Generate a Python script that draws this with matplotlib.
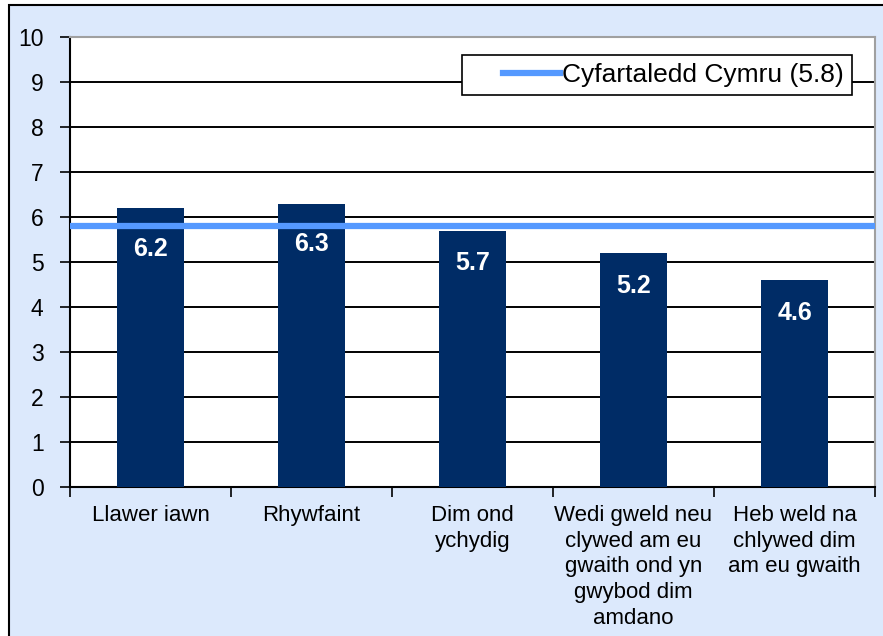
import matplotlib
matplotlib.use("Agg")
import matplotlib.pyplot as plt
from matplotlib.patches import Rectangle
from matplotlib.legend_handler import HandlerLine2D

plt.rcParams['font.family'] = ['Liberation Sans', 'DejaVu Sans']

categories = ["Llawer iawn", "Rhywfaint", "Dim ond\nychydig",
              "Wedi gweld neu\nclywed am eu\ngwaith ond yn\ngwybod dim\namdano",
              "Heb weld na\nchlywed dim\nam eu gwaith"]
values = [6.2, 6.3, 5.7, 5.2, 4.6]
average = 5.8
average_label = "Cyfartaledd Cymru (5.8)"
yticks = list(range(0, 11))

W, H = 883, 636
fig = plt.figure(figsize=(W / 100, H / 100), dpi=100)
fig.patch.set_facecolor('white')
fig.patches.append(Rectangle((9 / W, -0.05), 1.1, 1 - 5 / H + 0.05,
                             transform=fig.transFigure, facecolor='#DCE9FC',
                             edgecolor='black', linewidth=1.5, zorder=-5))

ax = fig.add_axes([70 / W, 1 - 487 / H, (875 - 70) / W, (487 - 37) / H])
ax.set_zorder(2)
ax.set_facecolor('white')

x = list(range(len(categories)))
ax.bar(x, values, width=0.41, color='#002C66', zorder=3)
ax.set_xlim(-0.5, len(categories) - 0.5)
ax.set_ylim(0, 10)

ax.set_yticks(yticks)
ax.set_yticklabels([str(t) for t in yticks], fontsize=16.5)
ax.yaxis.grid(True, color='black', linewidth=1.4, zorder=1)
ax.set_axisbelow(True)

ax.set_xticks([i - 0.5 for i in range(len(categories) + 1)])
ax.set_xticklabels([])
ax.set_xticks(x, minor=True)
ax.set_xticklabels(categories, minor=True, fontsize=16, linespacing=1.29, va='top')
ax.tick_params(axis='x', which='minor', length=0, pad=13)
ax.tick_params(axis='x', which='major', length=7, width=1.2, direction='out')
ax.tick_params(axis='y', length=7, width=1.2, direction='out', pad=12)

for s in ['top', 'right']:
    ax.spines[s].set_color('#A0A0A0')
    ax.spines[s].set_linewidth(1.5)
for s in ['left', 'bottom']:
    ax.spines[s].set_color('black')
    ax.spines[s].set_linewidth(1.5)

line = ax.axhline(average, color='#5599FF', linewidth=4.5, zorder=4, label=average_label)

for xi, v in zip(x, values):
    off = 0.9 if v > average else 0.73
    ax.text(xi, v - off, f"{v:.1f}", ha='center', va='center', color='white',
            fontsize=18, fontweight='bold', zorder=5)

leg = ax.legend(loc='upper right', bbox_to_anchor=(0.9714, 0.96), fontsize=19,
                frameon=True, fancybox=False, framealpha=1, edgecolor='black',
                handlelength=3.42, handletextpad=0.1, borderpad=0.3,
                borderaxespad=0,
                handler_map={line: HandlerLine2D(xpad=1.29)})
leg.get_frame().set_linewidth(1.2)
leg.set_zorder(6)

fig.savefig("out.png", dpi=100)
